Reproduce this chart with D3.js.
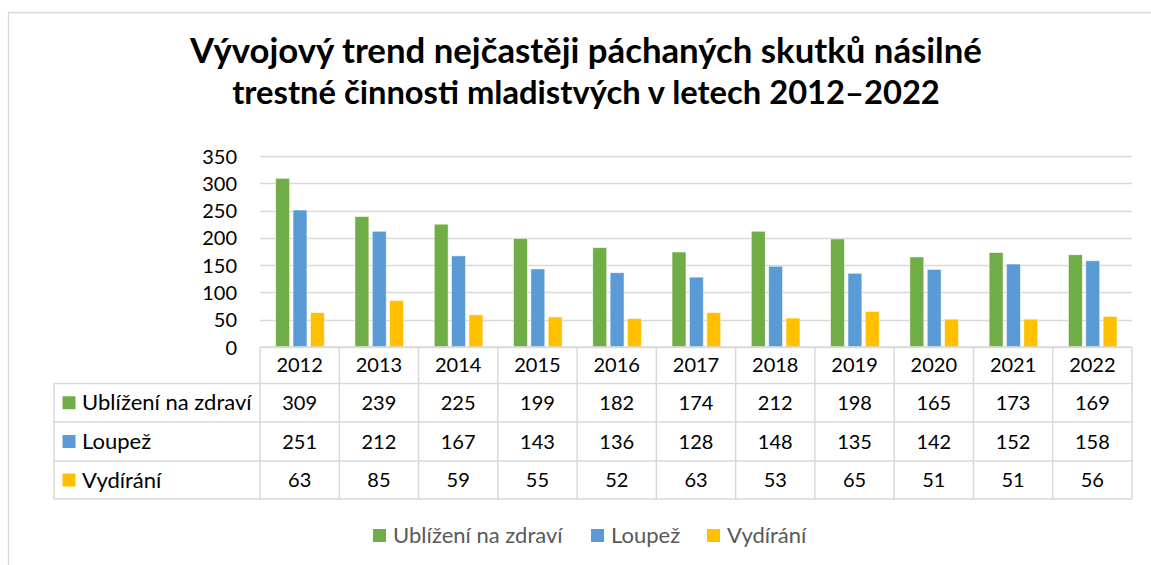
<!DOCTYPE html>
<html><head><meta charset="utf-8">
<script src="https://cdn.jsdelivr.net/npm/d3@7"></script>
<style>
html,body{margin:0;padding:0;background:#fff;}
text{font-family:Lato, "Open Sans", sans-serif;}
</style></head>
<body>
<svg id="c" width="1151" height="565"></svg>
<script>
const titleLines = ["Vývojový trend nejčastěji páchaných skutků násilné", "trestné činnosti mladistvých v letech 2012–2022"];
const years = ["2012","2013","2014","2015","2016","2017","2018","2019","2020","2021","2022"];
const seriesNames = ["Ublížení na zdraví","Loupež","Vydírání"];
const ublizeni = [309,239,225,199,182,174,212,198,165,173,169];
const loupez = [251,212,167,143,136,128,148,135,142,152,158];
const vydirani = [63,85,59,55,52,63,53,65,51,51,56];
const yTicks = [0,50,100,150,200,250,300,350];
const colors = ["#70AD47","#5B9BD5","#FFC000"];
const seriesValues = [ublizeni, loupez, vydirani];

const svg = d3.select("#c");
const gridCol = "#d9d9d9";

// outer frame (right/bottom cropped)
svg.append("path").attr("d","M8.5,565 V12.5 H1151").attr("fill","none").attr("stroke","#d9d9d9").attr("stroke-width",1.3);

// title
const tFont = 28;
const tTargets = [792, 708];
titleLines.forEach((t,i)=>{
  const el = svg.append("text").attr("x",586).attr("y",[63,104][i]).attr("text-anchor","middle")
    .attr("font-weight","bold").attr("font-size",tFont).attr("fill","#000").text(t);
  const w = el.node().getComputedTextLength();
  el.attr("font-size", tFont*tTargets[i]/w);
});

const left = 260, right = 1132, y0 = 347, yTop = 156;
const x = d3.scaleBand().domain(years).range([left,right]).paddingInner(0).paddingOuter(0);
const y = d3.scaleLinear().domain([0,350]).range([y0,yTop]);
const x1 = d3.scaleBand().domain(seriesNames).range([15.7, 15.7+48.6]).paddingInner(0.2).paddingOuter(0);

// gridlines
svg.append("g").selectAll("line").data(yTicks).join("line")
  .attr("x1",left).attr("x2",right).attr("y1",d=>Math.round(y(d))+0.5).attr("y2",d=>Math.round(y(d))+0.5)
  .attr("stroke",gridCol).attr("stroke-width",1.5);

// y axis
const yAxis = d3.axisLeft(y).tickValues(yTicks).tickSize(0).tickPadding(0);
const ga = svg.append("g").attr("transform","translate(237,0)").call(yAxis);
ga.select(".domain").remove();
ga.selectAll("text").attr("font-size",20).attr("fill","#000").attr("font-family","Lato, sans-serif").attr("dy","0.35em");

// bars
seriesNames.forEach((s,si)=>{
  svg.append("g").selectAll("rect").data(years).join("rect")
    .attr("x",d=>x(d)+x1(s)).attr("width",x1.bandwidth())
    .attr("y",(d,i)=>y(seriesValues[si][i])).attr("height",(d,i)=>y0-y(seriesValues[si][i]))
    .attr("fill",colors[si]).attr("stroke","#fff").attr("stroke-opacity",0.6).attr("stroke-width",0.8);
});

// data table
const rowY = [347, 383.5, 422, 461, 499];
const tableLeft = 54;
const tg = svg.append("g");
const line = (x1_,y1_,x2_,y2_)=>tg.append("line").attr("x1",x1_).attr("y1",y1_).attr("x2",x2_).attr("y2",y2_).attr("stroke",gridCol).attr("stroke-width",1.5);
line(left, rowY[0], right, rowY[0]);
for (let r=1;r<5;r++) line(tableLeft, rowY[r], right, rowY[r]);
line(tableLeft, rowY[1], tableLeft, rowY[4]);
years.forEach(yr=>line(x(yr), rowY[0], x(yr), rowY[4]));
line(right, rowY[0], right, rowY[4]);

tg.selectAll("text.yr").data(years).join("text").attr("class","yr")
  .attr("x",d=>x(d)+x.bandwidth()/2).attr("y",(rowY[0]+rowY[1])/2).attr("dy","0.35em")
  .attr("text-anchor","middle").attr("font-size",20).attr("fill","#000").text(d=>d);

seriesNames.forEach((s,si)=>{
  const cy = (rowY[si+1]+rowY[si+2])/2;
  tg.append("rect").attr("x",62.5).attr("y",cy-6.5).attr("width",13).attr("height",13).attr("fill",colors[si]);
  tg.append("text").attr("x",82).attr("y",cy).attr("dy","0.35em").attr("font-size",22).attr("fill","#000").text(s);
  tg.append("g").selectAll("text").data(years).join("text")
    .attr("x",d=>x(d)+x.bandwidth()/2).attr("y",cy).attr("dy","0.35em")
    .attr("text-anchor","middle").attr("font-size",20).attr("fill","#000").text((d,i)=>seriesValues[si][i]);
});

// legend
const legX = [373, 591, 707];
const lg = svg.append("g");
seriesNames.forEach((s,si)=>{
  lg.append("rect").attr("x",legX[si]).attr("y",529).attr("width",13).attr("height",13).attr("fill",colors[si]);
  lg.append("text").attr("x",legX[si]+20).attr("y",535.5).attr("dy","0.35em").attr("font-size",22).attr("fill","#595959").text(s);
});
</script>
</body></html>
